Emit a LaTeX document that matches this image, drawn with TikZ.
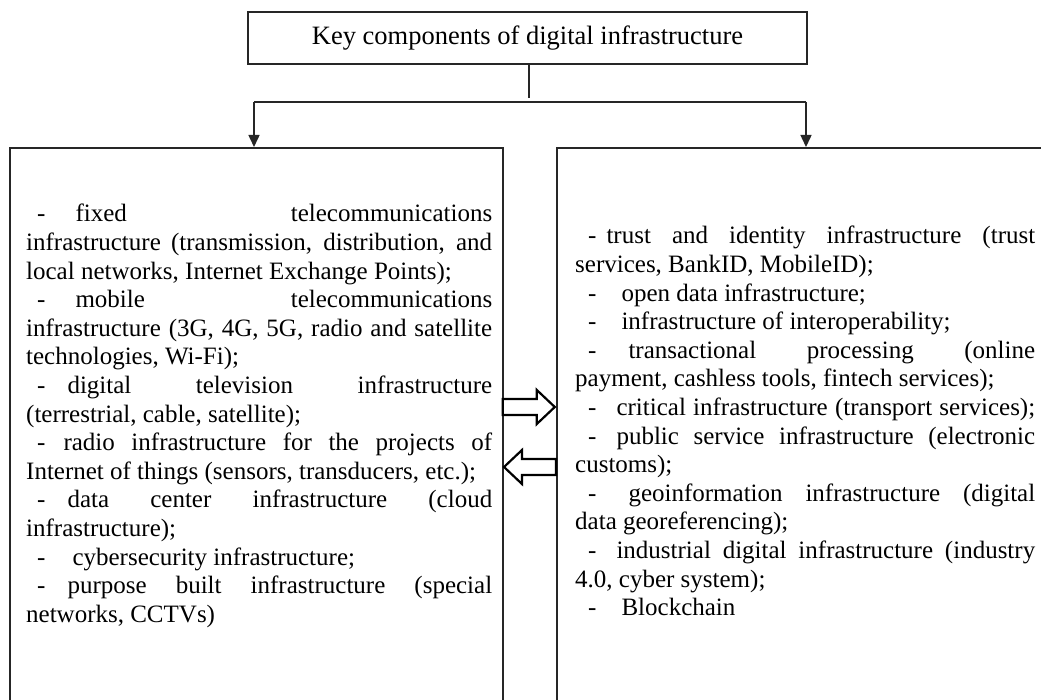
\documentclass[tikz,border=0pt]{standalone}
\usepackage{fontspec}
\setmainfont{Liberation Serif}
\usetikzlibrary{arrows.meta,calc}
\newcommand\myJ[1]{\makebox[\linewidth][s]{#1}\par}
\newcommand\myL[1]{\makebox[\linewidth][l]{#1}\par}
\newcommand\dsh[2]{\hspace*{#1pt}-\hspace*{#2pt}}
\begin{document}
\begin{tikzpicture}[x=1pt,y=-1pt,line join=miter]
\tikzset{
  box/.style={draw=black!85,line width=1.8pt,inner sep=0pt},
  txt/.style={inner sep=0pt,anchor=base west,font=\fontsize{25}{28.6}\selectfont},
  conn/.style={draw=black!85,line width=1.5pt},
  blk/.style={draw=black,line width=2.2pt,fill=white},
  tip/.style={-{Triangle[width=11pt,length=12pt]}}
}
\clip (0,0) rectangle (1041,700);
\useasboundingbox (0,0) rectangle (1041,700);
\fill[white] (0,0) rectangle (1041,700);

\node[box,minimum width=559pt,minimum height=52pt,font=\fontsize{26.5}{30}\selectfont] (T) at (527.5,38) {Key components of digital infrastructure};
\node[box,minimum width=493pt,minimum height=580pt,anchor=north west] (L) at (9,147) {};
\node[box,minimum width=500pt,minimum height=580pt,anchor=north west] (R) at (556,147) {};

\coordinate (J) at (529,98);
\coordinate (HL) at (254,102);
\coordinate (HR) at (806,102);
\draw[conn] (T.south -| J) -- (J);
\draw[conn] (HL) -- (HR);
\draw[conn,tip] (HL) -- (HL |- L.north);
\draw[conn,tip] (HR) -- (HR |- R.north);

\coordinate (ra) at (L.north east |- 0,407);
\draw[blk] ($(ra)+(-1,-8)$) -- ++(34,0) -- ++(0,-9) -- ($(ra)+(51,0)$) -- ($(ra)+(33,17)$) -- ++(0,-9) -- ($(ra)+(-1,8)$) -- cycle;
\coordinate (la) at (R.north west |- 0,467);
\draw[blk] ($(la)+(0,-8)$) -- ++(-34,0) -- ++(0,-9) -- ($(la)+(-52,0)$) -- ($(la)+(-34,17)$) -- ++(0,-9) -- ($(la)+(0,8)$) -- cycle;

\node[txt] (Lt) at (26,222) {\parbox[t]{466pt}{\parindent0pt\parskip0pt
\myJ{\dsh{11}{30}fixed telecommunications}
\myJ{infrastructure (transmission, distribution, and}
\myL{local networks, Internet Exchange Points);}
\myJ{\dsh{11}{30}mobile telecommunications}
\myJ{infrastructure (3G, 4G, 5G, radio and satellite}
\myL{technologies, Wi-Fi);}
\myJ{\dsh{11}{22}digital television infrastructure}
\myL{(terrestrial, cable, satellite);}
\myJ{\dsh{11}{18}radio infrastructure for the projects of}
\myL{Internet of things (sensors, transducers, etc.);}
\myJ{\dsh{11}{22}data center infrastructure (cloud}
\myL{infrastructure);}
\myL{\dsh{11}{27}cybersecurity infrastructure;}
\myJ{\dsh{11}{22}purpose built infrastructure (special}
\myL{networks, CCTVs)}}};

\node[txt] (Rt) at (575,244) {\parbox[t]{460pt}{\parindent0pt\parskip0pt
\myJ{\dsh{13}{10}trust and identity infrastructure (trust}
\myL{services, BankID, MobileID);}
\myL{\dsh{13}{25}open data infrastructure;}
\myL{\dsh{13}{25}infrastructure of interoperability;}
\myJ{\dsh{13}{32}transactional processing (online}
\myL{payment, cashless tools, fintech services);}
\myJ{\dsh{13}{20}critical infrastructure (transport services);}
\myJ{\dsh{13}{20}public service infrastructure (electronic}
\myL{customs);}
\myJ{\dsh{13}{32}geoinformation infrastructure (digital}
\myL{data georeferencing);}
\myJ{\dsh{13}{20}industrial digital infrastructure (industry}
\myL{4.0, cyber system);}
\myL{\dsh{13}{25}Blockchain}}};
\end{tikzpicture}
\end{document}
